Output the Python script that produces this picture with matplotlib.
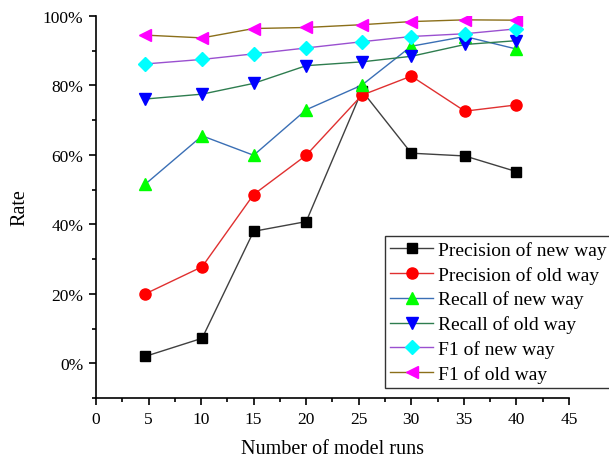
import matplotlib
matplotlib.use('Agg')
import matplotlib.pyplot as plt
from matplotlib.ticker import MultipleLocator, PercentFormatter

plt.rcParams['font.family'] = ['Liberation Serif', 'DejaVu Serif']

# 模型运行次数
runs = [4.7, 10.1, 15, 20, 25.3, 30, 35.1, 40]

precision_new = [2.0, 7.2, 38.0, 40.8, 78.5, 60.5, 59.7, 55.2]
precision_old = [20.0, 27.8, 48.6, 59.9, 77.2, 82.7, 72.6, 74.4]
recall_new = [51.6, 65.5, 59.9, 73.0, 80.1, 91.3, 94.1, 90.5]
recall_old = [76.1, 77.5, 80.6, 85.7, 86.8, 88.4, 91.8, 92.9]
f1_new = [86.2, 87.5, 89.1, 90.8, 92.6, 94.1, 94.9, 96.3]
f1_old = [94.5, 93.7, 96.4, 96.7, 97.5, 98.4, 98.9, 98.8]

labels = ['Precision of new way', 'Precision of old way', 'Recall of new way',
          'Recall of old way', 'F1 of new way', 'F1 of old way']
series = [precision_new, precision_old, recall_new, recall_old, f1_new, f1_old]
line_colors = ['#404040', '#e03030', '#3a6fb5', '#2e7d4f', '#9a50d0', '#8b6f1a']
marker_colors = ['black', 'red', '#00ff00', 'blue', 'cyan', 'magenta']
markers = ['s', 'o', '^', 'v', 'D', '<']
sizes = [7, 8, 8.5, 8.5, 7, 8.5]

fig = plt.figure(figsize=(6.09, 4.6), dpi=100)
ax = fig.add_axes([0.1576, 0.1326, 0.7766, 0.8304])

for vals, lab, lc, mc, mk, ms in zip(series, labels, line_colors, marker_colors, markers, sizes):
    ax.plot(runs, vals, color=lc, linewidth=1, marker=mk, markersize=ms,
            markerfacecolor=mc, markeredgecolor=mc, label=lab)

ax.set_xlim(0, 45)
ax.set_ylim(-10, 100)
ax.xaxis.set_major_locator(MultipleLocator(5))
ax.xaxis.set_minor_locator(MultipleLocator(2.5))
ax.yaxis.set_minor_locator(MultipleLocator(10))
ax.yaxis.set_major_formatter(PercentFormatter(decimals=0))
ax.set_yticks([0, 20, 40, 60, 80, 100])

for s in ['top', 'right']:
    ax.spines[s].set_visible(False)
for s in ['left', 'bottom']:
    ax.spines[s].set_linewidth(1.2)
ax.tick_params(which='major', direction='out', length=5, width=1.2, labelsize=12.5, pad=4)
ax.tick_params(which='minor', direction='out', length=3, width=1.2)

ax.set_xlabel('Number of model runs', fontsize=14.5, labelpad=9)
ax.set_ylabel('Rate', fontsize=14.5, labelpad=10)

leg = fig.legend(loc='upper left', bbox_to_anchor=(385.5 / 609, 1 - 237 / 460),
                 fontsize=14, frameon=True, fancybox=False, edgecolor='black',
                 borderpad=0.25, labelspacing=0.36, handlelength=2.2, handletextpad=0.25,
                 borderaxespad=0)
leg.get_frame().set_linewidth(1.0)

fig.savefig('out.png', dpi=100)
